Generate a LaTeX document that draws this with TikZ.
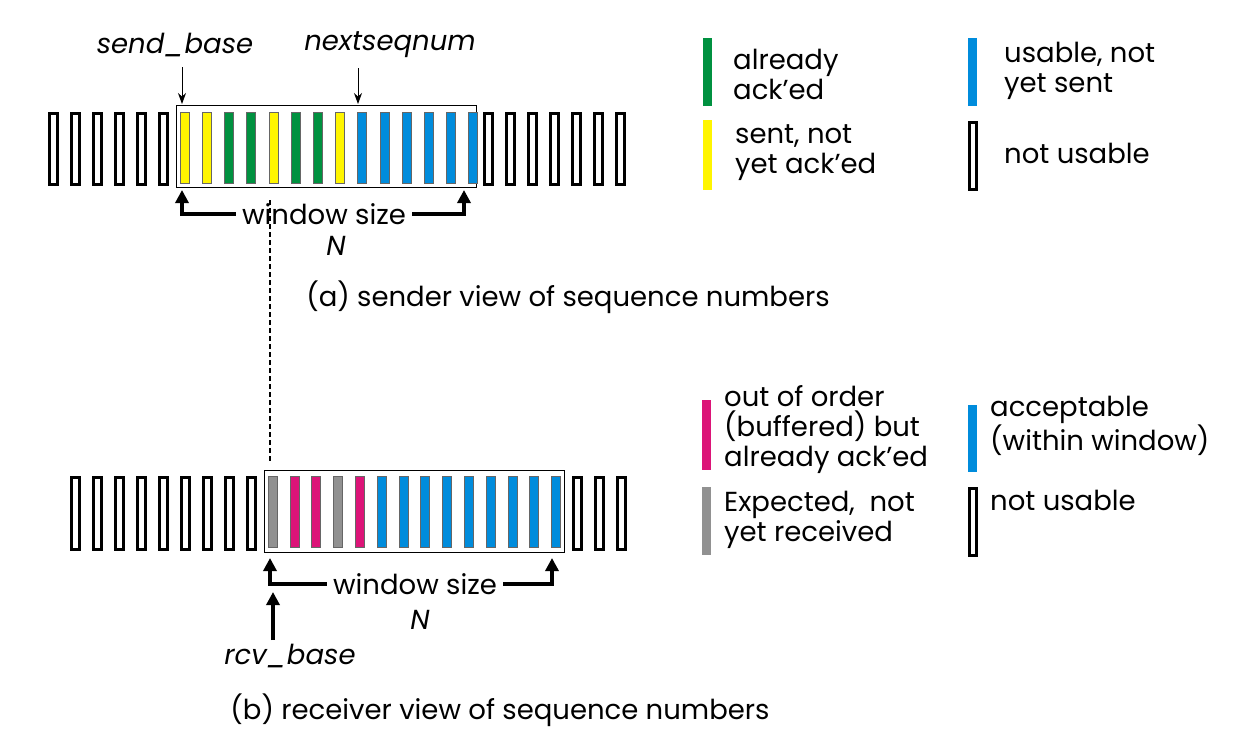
\documentclass[tikz,border=0pt]{standalone}
\usepackage{fontspec}
\setmainfont{Poppins}
\usetikzlibrary{arrows.meta}
\definecolor{gr}{RGB}{0,145,64}
\definecolor{ye}{RGB}{255,245,0}
\definecolor{bl}{RGB}{0,140,220}
\definecolor{mg}{RGB}{220,20,120}
\definecolor{gy}{RGB}{145,145,145}
\tikzset{x=1pt,y=-1pt,
 nb/.style={draw=black,line width=3pt,fill=white},
 cb/.style={fill=#1,draw=gray!80!black,line width=0.4pt},
 txt/.style={font=\fontsize{27.5}{30}\selectfont,inner sep=0pt},
 itx/.style={txt,font=\fontsize{27.5}{30}\selectfont\itshape},
 lbl/.style={txt,anchor=west,align=left},
 big/.style={-{Triangle[length=13pt,width=13pt]},line width=3.5pt},
 thin/.style={-{Stealth[length=11pt,width=8pt]},line width=0.8pt}}
\begin{document}
\begin{tikzpicture}
\useasboundingbox (0,0) rectangle (1233,739);
% ---------- sender ----------
\foreach \i in {0,...,5} \draw[nb] (49+22*\i,113) rectangle ++(8,71);
\node[draw,line width=1pt,minimum width=300pt,minimum height=82pt,inner sep=0pt,anchor=north west] (swin) at (176,105) {};
\foreach \c [count=\i from 0] in {ye,ye,gr,gr,ye,gr,gr,ye,bl,bl,bl,bl,bl,bl}
  \fill[cb=\c] (180+22.2*\i,112) rectangle ++(9,71);
\foreach \i in {0,...,6} \draw[nb] (484+22*\i,113) rectangle ++(8,71);
\node[itx] (sb) at (175,45) {send\_base};
\node[itx] (ns) at (390,45) {nextseqnum};
\coordinate (sbt) at (182,104); \coordinate (nst) at (358,104);
\draw[thin] (sb.south -| sbt) ++(0,10) -- (sbt);
\draw[thin] (ns.south -| nst) ++(0,10) -- (nst);
\node[txt] (ws1) at (324,214) {window size};
\node[itx] (n1) at (336,246) {N};
\coordinate (a1) at (182,190); \coordinate (a2) at (464,190);
\draw[big] (ws1.west) ++(-6,0) -| (a1);
\draw[big] (ws1.east) ++(6,0) -| (a2);
\node[txt] (capa) at (568,297) {(a) sender view of sequence numbers};
% ---------- receiver ----------
\foreach \i in {0,...,8} \draw[nb] (71+22*\i,477) rectangle ++(8,72);
\node[draw,line width=1pt,minimum width=300pt,minimum height=82pt,inner sep=0pt,anchor=north west] (rwin) at (264,470) {};
\foreach \c [count=\i from 0] in {gy,mg,mg,gy,mg,bl,bl,bl,bl,bl,bl,bl,bl,bl}
  \fill[cb=\c] (268+21.8*\i,476) rectangle ++(9,71);
\foreach \i in {0,...,2} \draw[nb] (573+22*\i,477) rectangle ++(8,72);
\coordinate (dtop) at (270,200); \coordinate (dbot) at (270,462);
\draw[line width=2.5pt,dash pattern=on 5pt off 3pt] (dtop) -- (dbot);
\node[txt] (ws2) at (415,584) {window size};
\node[itx] (n2) at (420,620) {N};
\coordinate (b1) at (270,558); \coordinate (b2) at (552,558);
\draw[big] (ws2.west) ++(-6,0) -| (b1);
\draw[big] (ws2.east) ++(6,0) -| (b2);
\node[itx] (rb) at (290,656) {rcv\_base};
\coordinate (rbt) at (273,592);
\draw[big] (273,640) -- (rbt);
\node[txt] (capb) at (500,710) {(b) receiver view of sequence numbers};
% ---------- legends ----------
\fill[gr] (703,38) rectangle ++(9,68);
\node[lbl] at (733,74) {already\\ack’ed};
\fill[ye] (703,120) rectangle ++(9,70);
\node[lbl] at (735,153) {sent, not\\yet ack’ed};
\fill[bl] (968,38) rectangle ++(9,68);
\node[lbl] at (1004,71) {usable, not\\yet sent};
\draw[nb] (969,122) rectangle ++(7,67);
\node[lbl] at (1004,153) {not usable};
\fill[mg] (702,400) rectangle ++(9,70);
\node[lbl,align=left] at (724,430) {out of order\\(buffered) but\\already ack’ed};
\fill[gy] (702,487) rectangle ++(9,68);
\node[lbl] at (724,520) {Expected,\ \ not\\yet received};
\fill[bl] (968,405) rectangle ++(9,67);
\node[lbl] at (990,426) {acceptable\\(within window)};
\draw[nb] (969,488) rectangle ++(7,67);
\node[lbl] at (990,500) {not usable};
\end{tikzpicture}
\end{document}
